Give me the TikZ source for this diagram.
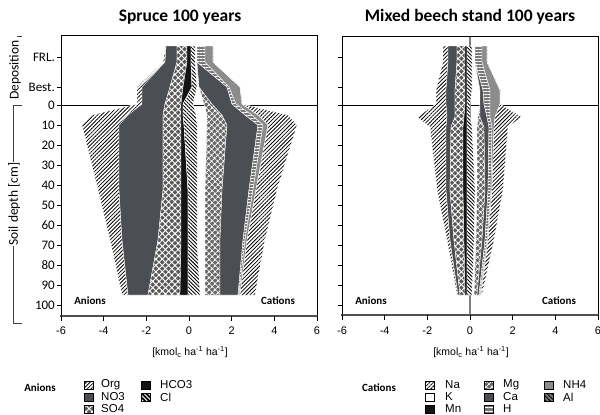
\documentclass[tikz,border=0pt]{standalone}
\usepackage{fontspec}
\setmainfont{Carlito}
\newfontfamily\arialf{Liberation Sans}
\usetikzlibrary{patterns.meta}
\definecolor{dgray}{HTML}{4B4F53}
\definecolor{sgray}{HTML}{5A5A5A}
\definecolor{mggray}{HTML}{6A6A6A}
\definecolor{hgray}{HTML}{777777}
\definecolor{nhgray}{HTML}{8C8C8C}
\definecolor{axgray}{HTML}{505050}
\definecolor{zgray}{HTML}{7F7F7F}
\tikzset{
  band/.style={draw=white,line width=0.35pt},
  orgS/.style={preaction={fill=white},pattern={Lines[angle=45,distance=2.7pt,line width=0.8pt]},pattern color=black},
  no3S/.style={fill=dgray},
  so4S/.style={preaction={fill=sgray},pattern={Hatch[angle=45,distance=4.5pt,line width=0.9pt]},pattern color=white},
  hco3S/.style={fill=black!92},
  clS/.style={preaction={fill=white},pattern={Lines[angle=-45,distance=2.6pt,line width=0.9pt]},pattern color=black},
  clL/.style={preaction={fill=black},pattern={Lines[angle=-45,distance=3pt,line width=0.9pt]},pattern color=white},
  mgS/.style={preaction={fill=mggray},pattern={Hatch[angle=45,distance=4pt,line width=0.9pt]},pattern color=white},
  caS/.style={fill=dgray},
  hS/.style={preaction={fill=hgray},pattern={Lines[angle=0,distance=3pt,line width=0.8pt]},pattern color=white},
  hL/.style={preaction={fill=hgray},pattern={Lines[angle=0,distance=3.5pt,line width=1pt]},pattern color=white},
  nh4S/.style={fill=nhgray},
  naS/.style={preaction={fill=white},pattern={Lines[angle=45,distance=2.7pt,line width=0.8pt]},pattern color=black},
  kS/.style={fill=white},
  mnS/.style={fill=black!92},
  alS/.style={preaction={fill=hgray},pattern={Lines[angle=-45,distance=3pt,line width=0.9pt]},pattern color=black},
  frame/.style={draw=black,line width=0.9pt},
  baseax/.style={draw=axgray,line width=1.6pt},
  tickmark/.style={draw=black,line width=0.8pt},
  ylab/.style={anchor=east,inner sep=0pt,font=\fontsize{13}{15}\selectfont},
  xlab/.style={inner sep=0pt,font=\arialf\fontsize{11}{13}\selectfont},
  axtitle/.style={inner sep=0pt,font=\arialf\fontsize{10.5}{12}\selectfont},
  ttl/.style={inner sep=0pt,font=\bfseries\fontsize{17.5}{20}\selectfont},
  sidelab/.style={inner sep=0pt,font=\bfseries\fontsize{11}{13}\selectfont},
  rotlab/.style={inner sep=1pt,rotate=90,fill=white,font=\fontsize{13.5}{15}\selectfont},
  sw/.style={draw=black,line width=0.4pt,minimum width=9pt,minimum height=7.5pt,inner sep=0pt},
  legt/.style={anchor=west,inner sep=0pt,font=\arialf\fontsize{11.5}{13}\selectfont},
  brk/.style={draw=black!75,line width=0.9pt}
}
\newcommand\band[4]{%
  \path[band,#1] ({#3[0]},{#2[0]})
    \foreach \i in {1,...,8}{ -- ({#3[\i]},{#2[\i]}) }
    \foreach \i in {8,...,0}{ -- ({#4[\i]},{#2[\i]}) } -- cycle;}
% Spruce
\def\YS{{46,62,87,104,115,125,190,240,295}}
\def\SAf{{166,163,137,137,92,82,98,110,122}}
\def\SAe{{166,165,142,142,128,119,119,122,128}}
\def\SAd{{177,177,170,165,163,163,163,158,148}}
\def\SAc{{187,187,183,181,181,181,181,181,180}}
\def\SAb{{191,191,192,183,183,184,188,188,188}}
\def\SAa{{195,195,197,193,196,197,197,197,200}}
\def\SCa{{197,197,199,204,207,207,205,205,205}}
\def\SCb{{197,197,199,212,222,227,222,220,220}}
\def\SCc{{197,197,227,232,245,258,249,243,238}}
\def\SCd{{205,205,229,236,252,263,253,245,239}}
\def\SCe{{213,213,240,242,258,268,256,247,240}}
\def\SCf{{213,213,240,242,288,297,277,265,255}}
% Beech
\def\YB{{46,62,90,104,117,127,190,240,295}}
\def\BAf{{443,443,436,436,417,430,437,447,457}}
\def\BAe{{448,448,446,446,447,446,446,450,458}}
\def\BAd{{457,457,455,455,455,451,450,454,460}}
\def\BAc{{465,465,465,465,464,463,463,464,465}}
\def\BAb{{467,467,467,467,467,467,467,467,467}}
\def\BAa{{472,472,472,470,470,472,475,474,472}}
\def\BCa{{475,475,480,480,478,477,477,476,474}}
\def\BCb{{475,475,480,480,480,484,485,482,477}}
\def\BCc{{475,475,483,484,487,489,488,485,479}}
\def\BCd{{482,482,490,490,490,492,491,487,480}}
\def\BCe{{487,487,500,500,495,494,492,488,481}}
\def\BCf{{487,487,500,500,522,508,503,494,482}}
\begin{document}
\begin{tikzpicture}[x=1pt,y=-1pt]
\useasboundingbox (0,0) rectangle (600,415);
% titles
\node[ttl] (t1) at (180,17) {Spruce 100 years};
\node[ttl] (t2) at (470,17) {Mixed beech stand 100 years};
% zero lines (under the data)
\draw[black,line width=0.9pt] (61,105) -- (317,105);
\draw[black,line width=0.9pt] (342,105) -- (598,105);
\draw[zgray,line width=1.4pt] (470,36) -- (470,315);
% spruce bands
\band{orgS}{\YS}{\SAf}{\SAe}
\band{no3S}{\YS}{\SAe}{\SAd}
\band{so4S}{\YS}{\SAd}{\SAc}
\band{hco3S}{\YS}{\SAc}{\SAb}
\band{clS}{\YS}{\SAb}{\SAa}
\band{mgS}{\YS}{\SCa}{\SCb}
\band{caS}{\YS}{\SCb}{\SCc}
\band{hS}{\YS}{\SCc}{\SCd}
\band{nh4S}{\YS}{\SCd}{\SCe}
\band{naS}{\YS}{\SCe}{\SCf}
% beech bands
\band{orgS}{\YB}{\BAf}{\BAe}
\band{no3S}{\YB}{\BAe}{\BAd}
\band{so4S}{\YB}{\BAd}{\BAc}
\band{hco3S}{\YB}{\BAc}{\BAb}
\band{clS}{\YB}{\BAb}{\BAa}
\band{mgS}{\YB}{\BCa}{\BCb}
\band{caS}{\YB}{\BCb}{\BCc}
\band{hS}{\YB}{\BCc}{\BCd}
\band{nh4S}{\YB}{\BCd}{\BCe}
\band{naS}{\YB}{\BCe}{\BCf}
% frames
\draw[frame] (61,316) -- (61,35) -- (317,35) -- (317,316);
\draw[baseax] (60,316) -- (318,316);
\draw[frame] (342,315) -- (342,36) -- (598,36) -- (598,315);
\draw[baseax] (341,315) -- (599,315);
% y ticks and labels
\foreach \d/\t [count=\k] in {-24/FRL.,-9/Best.,0/0,10/10,20/20,30/30,40/40,50/50,60/60,70/70,80/80,90/90,100/100}{
  \draw[tickmark] (57,{105+2*\d}) -- (61,{105+2*\d});
  \node[ylab] (yl\k) at (55,{105+2*\d}) {\t};
  \draw[tickmark] (338,{105+2*\d}) -- (342,{105+2*\d});
}
% x ticks and labels
\foreach \v [count=\k] in {-6,-4,-2,0,2,4,6}{
  \draw[tickmark] ({189+21.333*\v},316) -- ({189+21.333*\v},321);
  \node[xlab] (xa\k) at ({189+21.333*\v},331) {\v};
  \draw[tickmark] ({470+21.333*\v},315) -- ({470+21.333*\v},320);
  \node[xlab] (xb\k) at ({470+21.333*\v},331) {\v};
}
\node[axtitle] (ax1) at (190,352) {[kmol\textsubscript{c} ha\textsuperscript{-1} ha\textsuperscript{-1}]};
\node[axtitle] (ax2) at (471,352) {[kmol\textsubscript{c} ha\textsuperscript{-1} ha\textsuperscript{-1}]};
% anion / cation labels inside plots
\node[sidelab] (an1) at (90,301) {Anions};
\node[sidelab] (ca1) at (278,301) {Cations};
\node[sidelab] (an2) at (371,301) {Anions};
\node[sidelab] (ca2) at (559,301) {Cations};
% side brackets
\draw[brk] (17,36) -- (22,36);
\draw[brk] (22,105) -- (13,105) -- (13,323) -- (22,323);
\node[rotlab] (dep) at (15,70) {Deposition};
\node[rotlab] (soil) at (14,204) {Soil depth [cm]};
% legend anions
\node[sidelab] (lgA) at (40,388) {Anions};
\node[sw,orgS] (sOrg) at (89,385) {};  \node[legt] (tOrg) at (101,385) {Org};
\node[sw,no3S] (sNO3) at (89,397) {};  \node[legt] (tNO3) at (101,397) {NO3};
\node[sw,so4S] (sSO4) at (89,409) {};  \node[legt] (tSO4) at (101,409) {SO4};
\node[sw,hco3S] (sHCO3) at (146,385) {}; \node[legt] (tHCO3) at (160,385) {HCO3};
\node[sw,clL] (sCl) at (146,397) {};   \node[legt] (tCl) at (160,397) {Cl};
% legend cations
\node[sidelab] (lgC) at (379,388) {Cations};
\node[sw,naS] (sNa) at (430,385) {};   \node[legt] (tNa) at (445,385) {Na};
\node[sw,kS] (sK) at (430,397) {};     \node[legt] (tK) at (445,397) {K};
\node[sw,mnS] (sMn) at (430,409) {};   \node[legt] (tMn) at (445,409) {Mn};
\node[sw,mgS] (sMg) at (489,385) {};   \node[legt] (tMg) at (503,385) {Mg};
\node[sw,caS] (sCa) at (489,397) {};   \node[legt] (tCa) at (503,397) {Ca};
\node[sw,hL] (sH) at (489,409) {};     \node[legt] (tH) at (503,409) {H};
\node[sw,nh4S] (sNH4) at (549,385) {}; \node[legt] (tNH4) at (563,385) {NH4};
\node[sw,alS] (sAl) at (549,397) {};   \node[legt] (tAl) at (563,397) {Al};
\end{tikzpicture}
\end{document}
